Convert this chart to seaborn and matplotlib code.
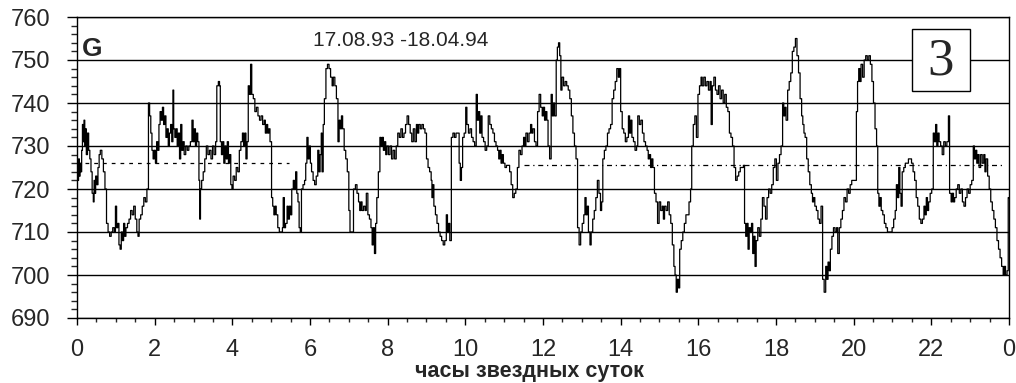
import numpy as np
import pandas as pd
import matplotlib
matplotlib.use("Agg")
import matplotlib.pyplot as plt
from matplotlib.patches import Rectangle
import seaborn as sns

# sidereal hour / G value
hours = [
    0.00, 0.02, 0.04, 0.06, 0.08, 0.10, 0.12, 0.14, 0.16, 0.18, 0.20, 0.22, 0.24, 0.27, 0.30, 0.33,
    0.36, 0.39, 0.42, 0.44, 0.46, 0.48, 0.51, 0.54, 0.57, 0.60, 0.64, 0.68, 0.72, 0.76, 0.80, 0.84,
    0.88, 0.92, 0.96, 0.99, 1.02, 1.05, 1.08, 1.11, 1.14, 1.17, 1.20, 1.23, 1.26, 1.30, 1.34, 1.38,
    1.42, 1.46, 1.50, 1.54, 1.57, 1.60, 1.64, 1.68, 1.72, 1.76, 1.80, 1.84, 1.87, 1.90, 1.93, 1.96,
    1.99, 2.02, 2.05, 2.08, 2.11, 2.14, 2.17, 2.20, 2.23, 2.26, 2.29, 2.32, 2.35, 2.38, 2.41, 2.44,
    2.47, 2.49, 2.52, 2.55, 2.58, 2.61, 2.64, 2.67, 2.70, 2.73, 2.76, 2.80, 2.84, 2.88, 2.92, 2.96,
    2.99, 3.02, 3.05, 3.08, 3.11, 3.14, 3.16, 3.18, 3.21, 3.25, 3.29, 3.33, 3.37, 3.41, 3.45, 3.49,
    3.53, 3.57, 3.60, 3.64, 3.67, 3.69, 3.72, 3.75, 3.78, 3.81, 3.84, 3.87, 3.90, 3.93, 3.96, 3.99,
    4.02, 4.06, 4.10, 4.14, 4.18, 4.22, 4.26, 4.29, 4.32, 4.35, 4.38, 4.41, 4.44, 4.47, 4.50, 4.54,
    4.58, 4.62, 4.66, 4.70, 4.74, 4.78, 4.82, 4.85, 4.88, 4.91, 4.94, 4.97, 5.01, 5.04, 5.07, 5.10,
    5.13, 5.17, 5.21, 5.25, 5.29, 5.31, 5.34, 5.37, 5.41, 5.44, 5.47, 5.50, 5.53, 5.57, 5.60, 5.63,
    5.66, 5.69, 5.72, 5.75, 5.78, 5.82, 5.86, 5.89, 5.92, 5.95, 5.98, 6.01, 6.04, 6.08, 6.12, 6.16,
    6.20, 6.23, 6.26, 6.29, 6.31, 6.34, 6.37, 6.41, 6.45, 6.49, 6.53, 6.57, 6.60, 6.64, 6.68, 6.72,
    6.75, 6.78, 6.81, 6.84, 6.88, 6.92, 6.96, 7.00, 7.03, 7.07, 7.12, 7.17, 7.21, 7.25, 7.28, 7.31,
    7.34, 7.38, 7.42, 7.45, 7.49, 7.53, 7.57, 7.60, 7.63, 7.66, 7.69, 7.72, 7.76, 7.80, 7.83, 7.86,
    7.89, 7.92, 7.95, 7.98, 8.02, 8.06, 8.10, 8.14, 8.18, 8.22, 8.26, 8.30, 8.34, 8.38, 8.42, 8.46,
    8.50, 8.54, 8.58, 8.62, 8.66, 8.70, 8.74, 8.77, 8.80, 8.84, 8.88, 8.92, 8.96, 9.00, 9.04, 9.08,
    9.12, 9.14, 9.16, 9.19, 9.23, 9.27, 9.31, 9.35, 9.39, 9.43, 9.47, 9.51, 9.54, 9.57, 9.60, 9.64,
    9.68, 9.72, 9.76, 9.80, 9.84, 9.87, 9.90, 9.93, 9.97, 10.01, 10.04, 10.08, 10.12, 10.16, 10.20, 10.24,
    10.28, 10.31, 10.34, 10.37, 10.40, 10.43, 10.47, 10.51, 10.55, 10.59, 10.63, 10.67, 10.71, 10.75, 10.79, 10.83,
    10.86, 10.89, 10.92, 10.95, 10.98, 11.02, 11.06, 11.10, 11.14, 11.18, 11.22, 11.26, 11.30, 11.34, 11.38, 11.42,
    11.46, 11.50, 11.53, 11.56, 11.60, 11.64, 11.68, 11.71, 11.74, 11.78, 11.82, 11.86, 11.90, 11.94, 11.98, 12.01,
    12.04, 12.07, 12.10, 12.13, 12.17, 12.21, 12.24, 12.27, 12.30, 12.34, 12.37, 12.40, 12.43, 12.46, 12.49, 12.53,
    12.57, 12.61, 12.65, 12.69, 12.73, 12.77, 12.81, 12.85, 12.89, 12.93, 12.97, 13.01, 13.05, 13.08, 13.11, 13.14,
    13.17, 13.21, 13.24, 13.28, 13.32, 13.36, 13.40, 13.44, 13.48, 13.51, 13.54, 13.58, 13.62, 13.66, 13.70, 13.74,
    13.78, 13.82, 13.86, 13.90, 13.94, 13.97, 14.00, 14.04, 14.08, 14.12, 14.16, 14.20, 14.23, 14.26, 14.29, 14.33,
    14.37, 14.41, 14.44, 14.48, 14.52, 14.56, 14.60, 14.64, 14.68, 14.71, 14.74, 14.77, 14.80, 14.83, 14.87, 14.91,
    14.95, 14.99, 15.03, 15.07, 15.10, 15.13, 15.17, 15.21, 15.25, 15.29, 15.33, 15.37, 15.40, 15.43, 15.46, 15.49,
    15.52, 15.56, 15.60, 15.64, 15.68, 15.72, 15.76, 15.80, 15.83, 15.87, 15.91, 15.95, 15.99, 16.03, 16.07, 16.10,
    16.14, 16.18, 16.22, 16.26, 16.30, 16.33, 16.36, 16.40, 16.44, 16.48, 16.52, 16.56, 16.60, 16.64, 16.68, 16.72,
    16.76, 16.80, 16.84, 16.88, 16.92, 16.96, 17.00, 17.04, 17.08, 17.12, 17.16, 17.19, 17.22, 17.25, 17.28, 17.31,
    17.34, 17.37, 17.40, 17.43, 17.46, 17.49, 17.53, 17.57, 17.61, 17.65, 17.69, 17.73, 17.77, 17.81, 17.85, 17.89,
    17.93, 17.97, 18.01, 18.05, 18.09, 18.13, 18.17, 18.20, 18.23, 18.26, 18.30, 18.34, 18.38, 18.42, 18.46, 18.50,
    18.54, 18.58, 18.62, 18.66, 18.69, 18.72, 18.75, 18.79, 18.83, 18.87, 18.91, 18.94, 18.97, 19.00, 19.04, 19.08,
    19.12, 19.16, 19.20, 19.24, 19.28, 19.31, 19.34, 19.37, 19.40, 19.44, 19.48, 19.52, 19.56, 19.59, 19.63, 19.67,
    19.71, 19.75, 19.79, 19.83, 19.87, 19.91, 19.95, 19.99, 20.03, 20.07, 20.10, 20.13, 20.16, 20.19, 20.23, 20.27,
    20.31, 20.35, 20.39, 20.43, 20.47, 20.51, 20.55, 20.59, 20.62, 20.65, 20.68, 20.71, 20.75, 20.79, 20.83, 20.87,
    20.91, 20.95, 20.99, 21.03, 21.07, 21.10, 21.13, 21.16, 21.19, 21.22, 21.25, 21.29, 21.33, 21.37, 21.41, 21.45,
    21.49, 21.53, 21.57, 21.61, 21.65, 21.69, 21.73, 21.77, 21.81, 21.84, 21.87, 21.90, 21.93, 21.97, 22.01, 22.05,
    22.08, 22.11, 22.14, 22.17, 22.20, 22.24, 22.28, 22.32, 22.36, 22.40, 22.44, 22.47, 22.51, 22.54, 22.57, 22.60,
    22.64, 22.68, 22.72, 22.76, 22.80, 22.84, 22.88, 22.92, 22.96, 23.00, 23.04, 23.08, 23.11, 23.14, 23.17, 23.20,
    23.23, 23.27, 23.31, 23.35, 23.38, 23.41, 23.45, 23.49, 23.53, 23.57, 23.61, 23.65, 23.69, 23.73, 23.77, 23.81,
    23.85, 23.88, 23.91, 23.95, 23.98, 24.00,
]
g_values = [
    724, 722, 727, 723, 726, 724, 729, 735, 731, 736, 730, 734, 728, 733, 729, 727,
    724, 719, 717, 722, 719, 723, 721, 725, 728, 729, 727, 724, 720, 712, 710, 709,
    710, 711, 710, 716, 711, 712, 707, 706, 710, 708, 712, 709, 711, 712, 713, 715,
    714, 716, 713, 710, 709, 713, 714, 716, 718, 717, 720, 740, 737, 733, 729, 727,
    729, 726, 731, 729, 735, 738, 736, 739, 735, 737, 732, 734, 730, 733, 735, 731,
    743, 734, 732, 734, 730, 733, 727, 735, 729, 731, 728, 730, 729, 730, 731, 736,
    731, 734, 730, 733, 731, 722, 713, 720, 722, 724, 727, 730, 728, 729, 727, 730,
    728, 731, 744, 745, 744, 731, 728, 731, 726, 730, 727, 731, 726, 728, 721, 720,
    723, 722, 725, 724, 729, 731, 733, 730, 733, 727, 731, 744, 742, 749, 742, 741,
    738, 739, 737, 736, 737, 735, 736, 733, 735, 733, 734, 731, 718, 716, 714, 716,
    714, 711, 710, 710, 711, 718, 711, 712, 716, 713, 716, 714, 720, 722, 720, 724,
    719, 717, 711, 710, 720, 721, 722, 726, 732, 727, 730, 726, 724, 722, 721, 723,
    729, 724, 728, 733, 724, 735, 741, 748, 749, 748, 746, 744, 746, 744, 741, 731,
    736, 734, 737, 734, 729, 727, 724, 715, 710, 710, 720, 721, 719, 717, 715, 717,
    715, 716, 715, 719, 714, 713, 711, 707, 711, 705, 712, 718, 724, 732, 730, 732,
    729, 731, 728, 730, 728, 730, 727, 729, 727, 730, 733, 732, 734, 732, 733, 735,
    737, 735, 733, 731, 734, 731, 735, 733, 735, 734, 735, 734, 733, 727, 725, 724,
    722, 718, 721, 716, 714, 712, 710, 709, 708, 707, 708, 714, 710, 712, 708, 732,
    733, 732, 733, 733, 726, 722, 725, 732, 733, 739, 735, 733, 734, 732, 731, 730,
    742, 736, 738, 733, 737, 732, 731, 729, 730, 737, 735, 734, 733, 731, 730, 729,
    727, 729, 726, 728, 726, 725, 725.5, 725.5, 724, 721, 718, 719, 720, 725, 729, 728,
    730, 732, 730, 733, 731, 733, 735, 733, 734, 731, 730, 738, 742, 739, 737, 739,
    736, 738, 736, 730, 727, 742, 737, 740, 737, 750, 753, 754, 751, 743, 746, 744,
    745, 744, 743, 741, 737, 733, 730, 727, 711, 707, 710, 712, 714, 718, 714, 716,
    710, 707, 710, 713, 715, 718, 722, 719, 715, 717, 727, 729, 730, 733, 734, 735,
    741, 743, 745, 748, 746, 748, 738, 734, 733, 731, 732, 737, 733, 736, 732, 731,
    729, 730, 737, 735, 736, 733, 731, 730, 729, 727, 728, 725, 727, 725, 719, 717,
    712, 717, 715, 716, 713, 716, 715, 717, 714, 712, 707, 702, 700, 696, 699, 697,
    706, 708, 710, 712, 714, 714, 717, 720, 730, 735, 737, 732, 742, 744, 746, 744,
    746, 744, 745, 743, 745, 735, 744, 746, 743, 742, 744, 741, 743, 740, 742, 739,
    738, 733, 732, 730, 725, 722, 723, 724, 725, 725, 725.5, 712, 709, 712, 706, 711,
    710, 712, 705, 709, 702, 708, 711, 709, 713, 718, 716, 713, 718, 720, 719, 721,
    725, 727, 722, 726, 728, 730, 740, 737, 739, 736, 743, 745, 747, 752, 753, 755,
    751, 747, 741, 737, 735, 733, 732, 727, 724, 721, 719, 717, 718, 716, 715, 713,
    712, 716, 699, 696, 702, 699, 703, 701, 706, 709, 711, 710, 711, 705, 711, 713,
    715, 718, 717, 720, 719, 721, 722, 722, 722, 738, 745, 748, 745, 749, 746, 750,
    751, 750, 751, 749, 745, 740, 734, 730, 719, 716, 718, 715, 714, 712, 711, 710,
    710, 710, 711, 713, 715, 721, 718, 725, 719, 716, 724, 725, 726, 726, 727, 727,
    726, 724, 722, 718, 716, 713, 712, 713, 716, 714, 718, 715, 717, 719, 720, 733,
    731, 735, 730, 733, 731, 730, 728, 731, 730, 731, 737, 719, 717, 719, 717, 718,
    720, 721, 719, 720, 717, 716, 718, 720, 719, 721, 722, 730, 727, 729, 726, 728,
    725, 728, 726, 728, 724, 727, 723, 720, 717, 715, 713, 711, 708, 706, 704, 702,
    700, 702, 700, 701, 718, 718,
]

# mean levels drawn as dashed lines
mean_start = [0.2, 11.5]
mean_end = [5.45, 23.9]
mean_level = [726.0, 725.5]

x_ticks = list(range(0, 25, 2))
x_labels = [str(h) for h in range(0, 24, 2)] + ["0"]
y_ticks = list(range(690, 761, 10))

df = pd.DataFrame({"hour": hours, "G": g_values})

sns.set_style("ticks")
plt.rcParams["font.family"] = ["Liberation Sans", "DejaVu Sans"]

fig = plt.figure(figsize=(10.16, 3.83), dpi=100)
ax = fig.add_axes([77 / 1016, 1 - 318 / 383, 932 / 1016, 301 / 383])

sns.lineplot(data=df, x="hour", y="G", ax=ax, color="black", linewidth=0.9,
             estimator=None, sort=False, drawstyle="steps-post", zorder=3)

for s, e, m, d in zip(mean_start, mean_end, mean_level, [(3, 4), (4, 3, 1, 3)]):
    ax.hlines(m, s, e, colors="black", linewidth=0.9, linestyles=[(0, d)], zorder=2)

ax.set_xlim(0, 24)
ax.set_ylim(690, 760)
ax.set_xticks(x_ticks)
ax.set_xticklabels(x_labels)
ax.set_xticks(np.arange(0, 24.01, 0.5), minor=True)
ax.set_yticks(y_ticks)
ax.set_yticks(np.arange(690, 760.1, 2), minor=True)
ax.tick_params(axis="both", which="major", labelsize=17, color="black", width=1.0, pad=12)
ax.tick_params(axis="y", which="major", length=7)
ax.tick_params(axis="y", which="minor", length=4.5, width=1.0)
ax.tick_params(axis="x", which="major", length=5, pad=10)
ax.tick_params(axis="x", which="minor", length=3, width=1.0)
ax.grid(axis="y", color="black", linewidth=1.0)
ax.set_axisbelow(True)
for sp in ax.spines.values():
    sp.set_color("black")
    sp.set_linewidth(1.0)

ax.set_ylabel("")
ax.set_xlabel("часы звездных суток", fontsize=15.5, fontweight="bold", labelpad=0)
ax.xaxis.set_label_coords(0.485, -0.1445)

ax.text(0.13, 752.6, "G", fontsize=19, fontweight="bold", ha="left", va="center")
ax.text(8.34, 754.6, "17.08.93 -18.04.94", fontsize=15, ha="center", va="center")
ax.add_patch(Rectangle((21.49, 742.8), 1.5, 14.4, facecolor="white", edgecolor="black",
                       linewidth=1.0, zorder=4))
ax.text(22.24, 749.6, "3", fontsize=38, family=["Liberation Serif", "DejaVu Serif"],
        ha="center", va="center", zorder=5)

fig.savefig("out.png", dpi=100)
